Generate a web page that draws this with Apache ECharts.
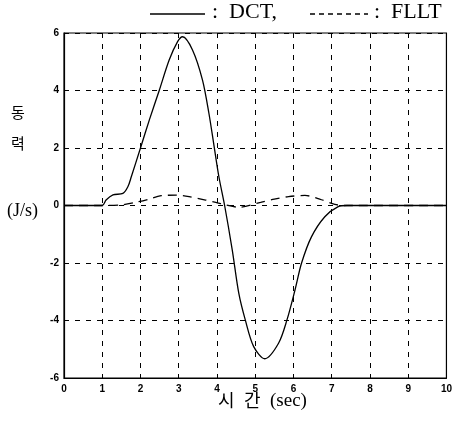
<!DOCTYPE html>
<html>
<head>
<meta charset="utf-8">
<script src="https://cdn.jsdelivr.net/npm/echarts@6/dist/echarts.min.js"></script>
<style>
  html, body { margin: 0; padding: 0; background: #fff; }
  #main { width: 455px; height: 421px; }
</style>
</head>
<body>
<div id="main"></div>
<script>
// 시간 (sec) / 동력 (J/s)
var dctT = [0, 1.0, 1.1, 1.28, 1.54, 1.67, 1.76, 2.0, 2.23, 2.49, 2.75, 2.97, 3.1, 3.36, 3.62, 3.79, 3.92, 4.05, 4.2, 4.4, 4.57, 4.74, 4.96, 5.25, 5.61, 5.83, 6.04, 6.21, 6.47, 6.82, 7.17, 7.4, 10];
var dctV = [0, 0, 0.19, 0.37, 0.42, 0.65, 1.0, 2.0, 2.97, 4.0, 5.06, 5.7, 5.87, 5.41, 4.37, 3.2, 2.1, 1.0, 0, -1.55, -3.05, -3.98, -4.91, -5.33, -4.79, -3.98, -2.94, -2.01, -1.09, -0.39, -0.04, 0, 0];

var flltT = [0, 1.0, 1.5, 1.84, 2.19, 2.54, 2.93, 3.27, 3.7, 3.97, 4.2, 4.57, 5.14, 5.5, 5.87, 6.3, 6.73, 7.08, 7.3, 10];
var flltV = [0, 0, 0.02, 0.1, 0.21, 0.34, 0.36, 0.31, 0.19, 0.11, 0.03, -0.06, 0.11, 0.22, 0.31, 0.35, 0.2, 0.04, 0, 0];

var xTicks = [0, 1, 2, 3, 4, 5, 6, 7, 8, 9, 10];
var yTicks = [-6, -4, -2, 0, 2, 4, 6];

function pairs(t, v) {
  return t.map(function (x, i) { return [x, v[i]]; });
}

var chart = echarts.init(document.getElementById('main'));

var tickFont = { color: '#000', fontFamily: 'Liberation Sans', fontWeight: 'bold', fontSize: 10 };
var gridLine = { show: true, lineStyle: { color: '#000', type: [5, 6], width: 1 } };
var serif = '"Liberation Serif"';

chart.setOption({
  animation: false,
  grid: { left: 64, right: 6, top: 33, bottom: 43, show: true, borderColor: '#000', borderWidth: 1.2 },
  xAxis: {
    type: 'value', min: xTicks[0], max: xTicks[xTicks.length - 1], interval: 1,
    axisLine: { show: true, onZero: false, lineStyle: { color: '#000', width: 1.2 } },
    axisTick: { show: true, inside: true, length: 4, lineStyle: { color: '#000' } },
    axisLabel: Object.assign({ margin: 6 }, tickFont),
    splitLine: gridLine
  },
  yAxis: {
    type: 'value', min: yTicks[0], max: yTicks[yTicks.length - 1], interval: 2,
    axisLine: { show: true, lineStyle: { color: '#000', width: 1.2 } },
    axisTick: { show: true, inside: true, length: 4, lineStyle: { color: '#000' } },
    axisLabel: Object.assign({ margin: 5 }, tickFont),
    splitLine: gridLine
  },
  series: [
    {
      name: 'DCT', type: 'line', data: pairs(dctT, dctV), smooth: 0.3,
      showSymbol: false, lineStyle: { color: '#000', width: 1.3 }
    },
    {
      name: 'FLLT', type: 'line', data: pairs(flltT, flltV), smooth: 0.3,
      showSymbol: false, lineStyle: { color: '#000', width: 1.3, type: [9, 6] }
    }
  ],
  graphic: [
    // legend
    { type: 'line', shape: { x1: 150, y1: 14, x2: 205, y2: 14 }, style: { stroke: '#000', lineWidth: 1.3 } },
    { type: 'text', left: 212, top: 1, style: { text: ':  DCT,', font: '22px ' + serif, fill: '#000' } },
    { type: 'line', shape: { x1: 310, y1: 14, x2: 368, y2: 14 }, style: { stroke: '#000', lineWidth: 1.3, lineDash: [5, 4] } },
    { type: 'text', left: 374, top: 1, style: { text: ':  FLLT', font: '22px ' + serif, fill: '#000' } },
    // y axis name
    { type: 'text', left: 11, top: 105, style: { text: '동', font: '15px "Noto Sans CJK KR"', fill: '#000' } },
    { type: 'text', left: 11, top: 136, style: { text: '력', font: '15px "Noto Sans CJK KR"', fill: '#000' } },
    { type: 'text', left: 7, top: 202, style: { text: '(J/s)', font: '18px ' + serif, fill: '#000' } },
    // x axis name
    { type: 'text', left: 218, top: 391, style: { text: '시', font: '18px "Noto Sans CJK KR"', fill: '#000' } },
    { type: 'text', left: 244, top: 391, style: { text: '간', font: '18px "Noto Sans CJK KR"', fill: '#000' } },
    { type: 'text', left: 270, top: 392, style: { text: '(sec)', font: '19px ' + serif, fill: '#000' } }
  ]
});
</script>
</body>
</html>
